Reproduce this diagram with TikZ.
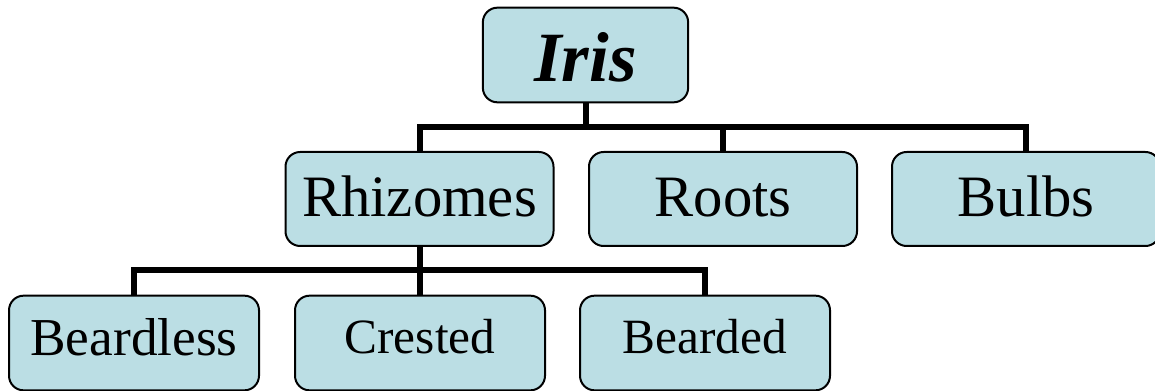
\documentclass[tikz,border=0pt]{standalone}
\usepackage{fontspec}
\setmainfont{Liberation Serif}
\definecolor{boxfill}{RGB}{187,222,228}
\begin{document}
\begin{tikzpicture}[x=0.75pt,y=-0.75pt,
  box/.style={draw=black, line width=1.5pt, fill=boxfill, rounded corners=11pt, inner sep=0pt},
  topbox/.style={box, minimum width=154pt, minimum height=71pt, font=\fontsize{53}{53}\selectfont\bfseries\itshape, text height=40.5pt, text depth=0pt},
  midbox/.style={box, minimum width=201pt, minimum height=70.5pt, font=\fontsize{44}{44}\selectfont, text height=27pt, text depth=0pt},
  lowbox/.style={box, minimum width=187.5pt, minimum height=71pt, font=\fontsize{37}{37}\selectfont, text height=20pt, text depth=5pt},
  bigbox/.style={lowbox, font=\fontsize{40}{40}\selectfont, text height=20pt, text depth=2pt},
  conn/.style={draw=black, line width=4.5pt, line join=miter}]
\useasboundingbox (0,0) rectangle (1155,391);
\node[topbox] (iris) at (585.5,55) {Iris};
\node[midbox] (rhiz) at (419.5,199) {Rhizomes};
\node[midbox] (roots) at (723,199) {Roots};
\node[midbox] (bulbs) at (1026,199) {Bulbs};
\node[bigbox] (beardless) at (134,343) {Beardless};
\node[lowbox] (crested) at (420,343) {Crested};
\node[lowbox] (bearded) at (705,343) {Bearded};
\coordinate (bus1) at (585.5,127);
\coordinate (bus2) at (419.5,270);
\draw[conn] (iris.south) -- (bus1);
\draw[conn] (rhiz.north) -- (rhiz.north |- bus1) -- (bulbs.north |- bus1) -- (bulbs.north);
\draw[conn] (roots.north) -- (roots.north |- bus1);
\draw[conn] (rhiz.south) -- (bus2);
\draw[conn] (beardless.north) -- (beardless.north |- bus2) -- (bearded.north |- bus2) -- (bearded.north);
\draw[conn] (crested.north) -- (crested.north |- bus2);
\end{tikzpicture}
\end{document}
